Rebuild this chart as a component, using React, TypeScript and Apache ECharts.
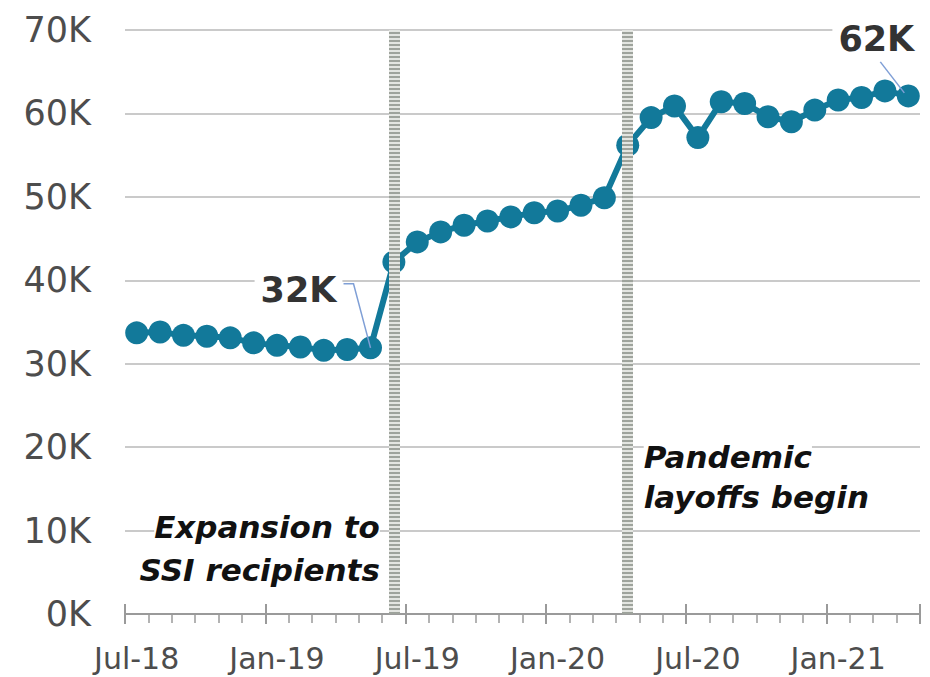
import React, { useEffect, useRef } from "react";
import * as echarts from "echarts";

const months = [
  "Jul-18", "Aug-18", "Sep-18", "Oct-18", "Nov-18", "Dec-18",
  "Jan-19", "Feb-19", "Mar-19", "Apr-19", "May-19", "Jun-19",
  "Jul-19", "Aug-19", "Sep-19", "Oct-19", "Nov-19", "Dec-19",
  "Jan-20", "Feb-20", "Mar-20", "Apr-20", "May-20", "Jun-20",
  "Jul-20", "Aug-20", "Sep-20", "Oct-20", "Nov-20", "Dec-20",
  "Jan-21", "Feb-21", "Mar-21", "Apr-21",
];

// thousands of recipients
const recipients = [
  33.7, 33.8, 33.4, 33.3, 33.1, 32.5, 32.2, 32.0, 31.6, 31.7, 31.9,
  42.2, 44.6, 45.8, 46.6, 47.1, 47.6, 48.1, 48.3, 49.0, 49.9,
  56.2, 59.5, 60.9, 57.1, 61.4, 61.2, 59.6, 59.0, 60.4, 61.6, 61.9, 62.7, 62.1,
];

const bandMonths = ["Jun-19", "Apr-20"];
const callouts = [
  { index: 10, text: "32K" },
  { index: 33, text: "62K" },
];
const notes = [
  { month: "Jun-19", lines: ["Expansion to", "SSI recipients"], side: "left" },
  { month: "Apr-20", lines: ["Pandemic", "layoffs begin"], side: "right" },
];

const LINE = "#12799a";
const GRID = "#cacaca";
const AXIS = "#9a9a9a";
const TEXT = "#4d4d4d";

export default function App() {
  const ref = useRef<HTMLDivElement>(null);

  useEffect(() => {
    const chart = echarts.init(ref.current!, null, { renderer: "svg" });
    const bandData: any[] = [];
    bandMonths.forEach((m) => {
      bandData.push({ xAxis: m, lineStyle: { color: "#e3e5e1", width: 11, type: "solid" } });
      bandData.push({ xAxis: m, lineStyle: { color: "#9ea39c", width: 11, type: [2, 2] } });
    });
    chart.setOption({
      animation: false,
      backgroundColor: "#ffffff",
      grid: { left: 125, right: 10, top: 30, bottom: 63 },
      xAxis: [
        {
          type: "category",
          data: months,
          boundaryGap: true,
          axisLine: { show: true, lineStyle: { color: AXIS, width: 2 } },
          axisTick: { show: true, interval: 0, length: 9, lineStyle: { color: AXIS, width: 1.5 } },
          axisLabel: {
            interval: 5,
            margin: 29,
            color: TEXT,
            fontFamily: "DejaVu Sans",
            fontSize: 30,
          },
          splitLine: { show: false },
        },
        {
          type: "category",
          data: months,
          position: "bottom",
          offset: -10,
          boundaryGap: true,
          axisLine: { show: false },
          axisTick: { show: true, interval: 5, length: 20, lineStyle: { color: AXIS, width: 2 } },
          axisLabel: { show: false },
          splitLine: { show: false },
        },
      ],
      yAxis: {
        type: "value",
        min: 0,
        max: 70,
        interval: 10,
        axisLine: { show: false },
        axisTick: { show: false },
        axisLabel: {
          formatter: (v: number) => `${v}K`,
          margin: 34,
          color: TEXT,
          fontFamily: "DejaVu Sans",
          fontSize: 35,
        },
        splitLine: { lineStyle: { color: GRID, width: 2 } },
      },
      series: [
        {
          type: "line",
          z: 1,
          data: months.map(() => null),
          symbol: "none",
          markLine: {
            silent: true,
            symbol: "none",
            label: { show: false },
            data: bandData,
          },
        },
        {
          type: "line",
          z: 3,
          data: recipients,
          lineStyle: { color: LINE, width: 6 },
          itemStyle: { color: LINE },
          symbol: "circle",
          symbolSize: 23,
          showSymbol: true,
          showAllSymbol: true,
        },
      ],
    });

    const graphics: any[] = [];
    const labelStyle = {
      fontFamily: "DejaVu Sans",
      fontWeight: "bold",
      fontSize: 35,
      fill: "#333333",
      align: "center",
      verticalAlign: "middle",
      backgroundColor: "#ffffff",
      padding: [0, 6],
    };
    callouts.forEach((c) => {
      const p = chart.convertToPixel({ xAxisIndex: 0, yAxisIndex: 0 }, [months[c.index], recipients[c.index]]) as number[];
      if (c.index === 10) {
        graphics.push({
          type: "polyline",
          shape: { points: [[p[0] - 27, p[1] - 64], [p[0] - 17, p[1] - 64], [p[0], p[1]]] },
          style: { stroke: "#7f9fd6", lineWidth: 1.5, fill: null },
          z: 10,
        });
        graphics.push({ type: "text", x: p[0] - 72, y: p[1] - 58, style: { ...labelStyle, text: c.text }, z: 11 });
      } else {
        graphics.push({
          type: "line",
          shape: { x1: p[0] - 28, y1: p[1] - 34, x2: p[0] - 4, y2: p[1] - 3 },
          style: { stroke: "#7f9fd6", lineWidth: 1.5 },
          z: 10,
        });
        graphics.push({ type: "text", x: p[0] - 32, y: p[1] - 57, style: { ...labelStyle, text: c.text }, z: 11 });
      }
    });

    notes.forEach((n) => {
      const p = chart.convertToPixel({ xAxisIndex: 0, yAxisIndex: 0 }, [n.month, 0]) as number[];
      const left = n.side === "left";
      n.lines.forEach((line, i) => {
        graphics.push({
          type: "text",
          x: left ? p[0] - 14 : p[0] + 16,
          y: (left ? 527 : 457) + i * (left ? 43 : 40),
          style: {
            text: line,
            fontFamily: "DejaVu Sans",
            fontWeight: "bold",
            fontStyle: "italic",
            fontSize: 31,
            fill: "#111111",
            align: left ? "right" : "left",
            verticalAlign: "middle",
            backgroundColor: "#ffffff",
          },
          z: 12,
        });
      });
    });

    chart.setOption({ graphic: graphics });

    return () => chart.dispose();
  }, []);

  return (
    <div
      ref={ref}
      style={{ position: "fixed", left: 0, top: 0, width: 930, height: 677, background: "#fff" }}
    />
  );
}
